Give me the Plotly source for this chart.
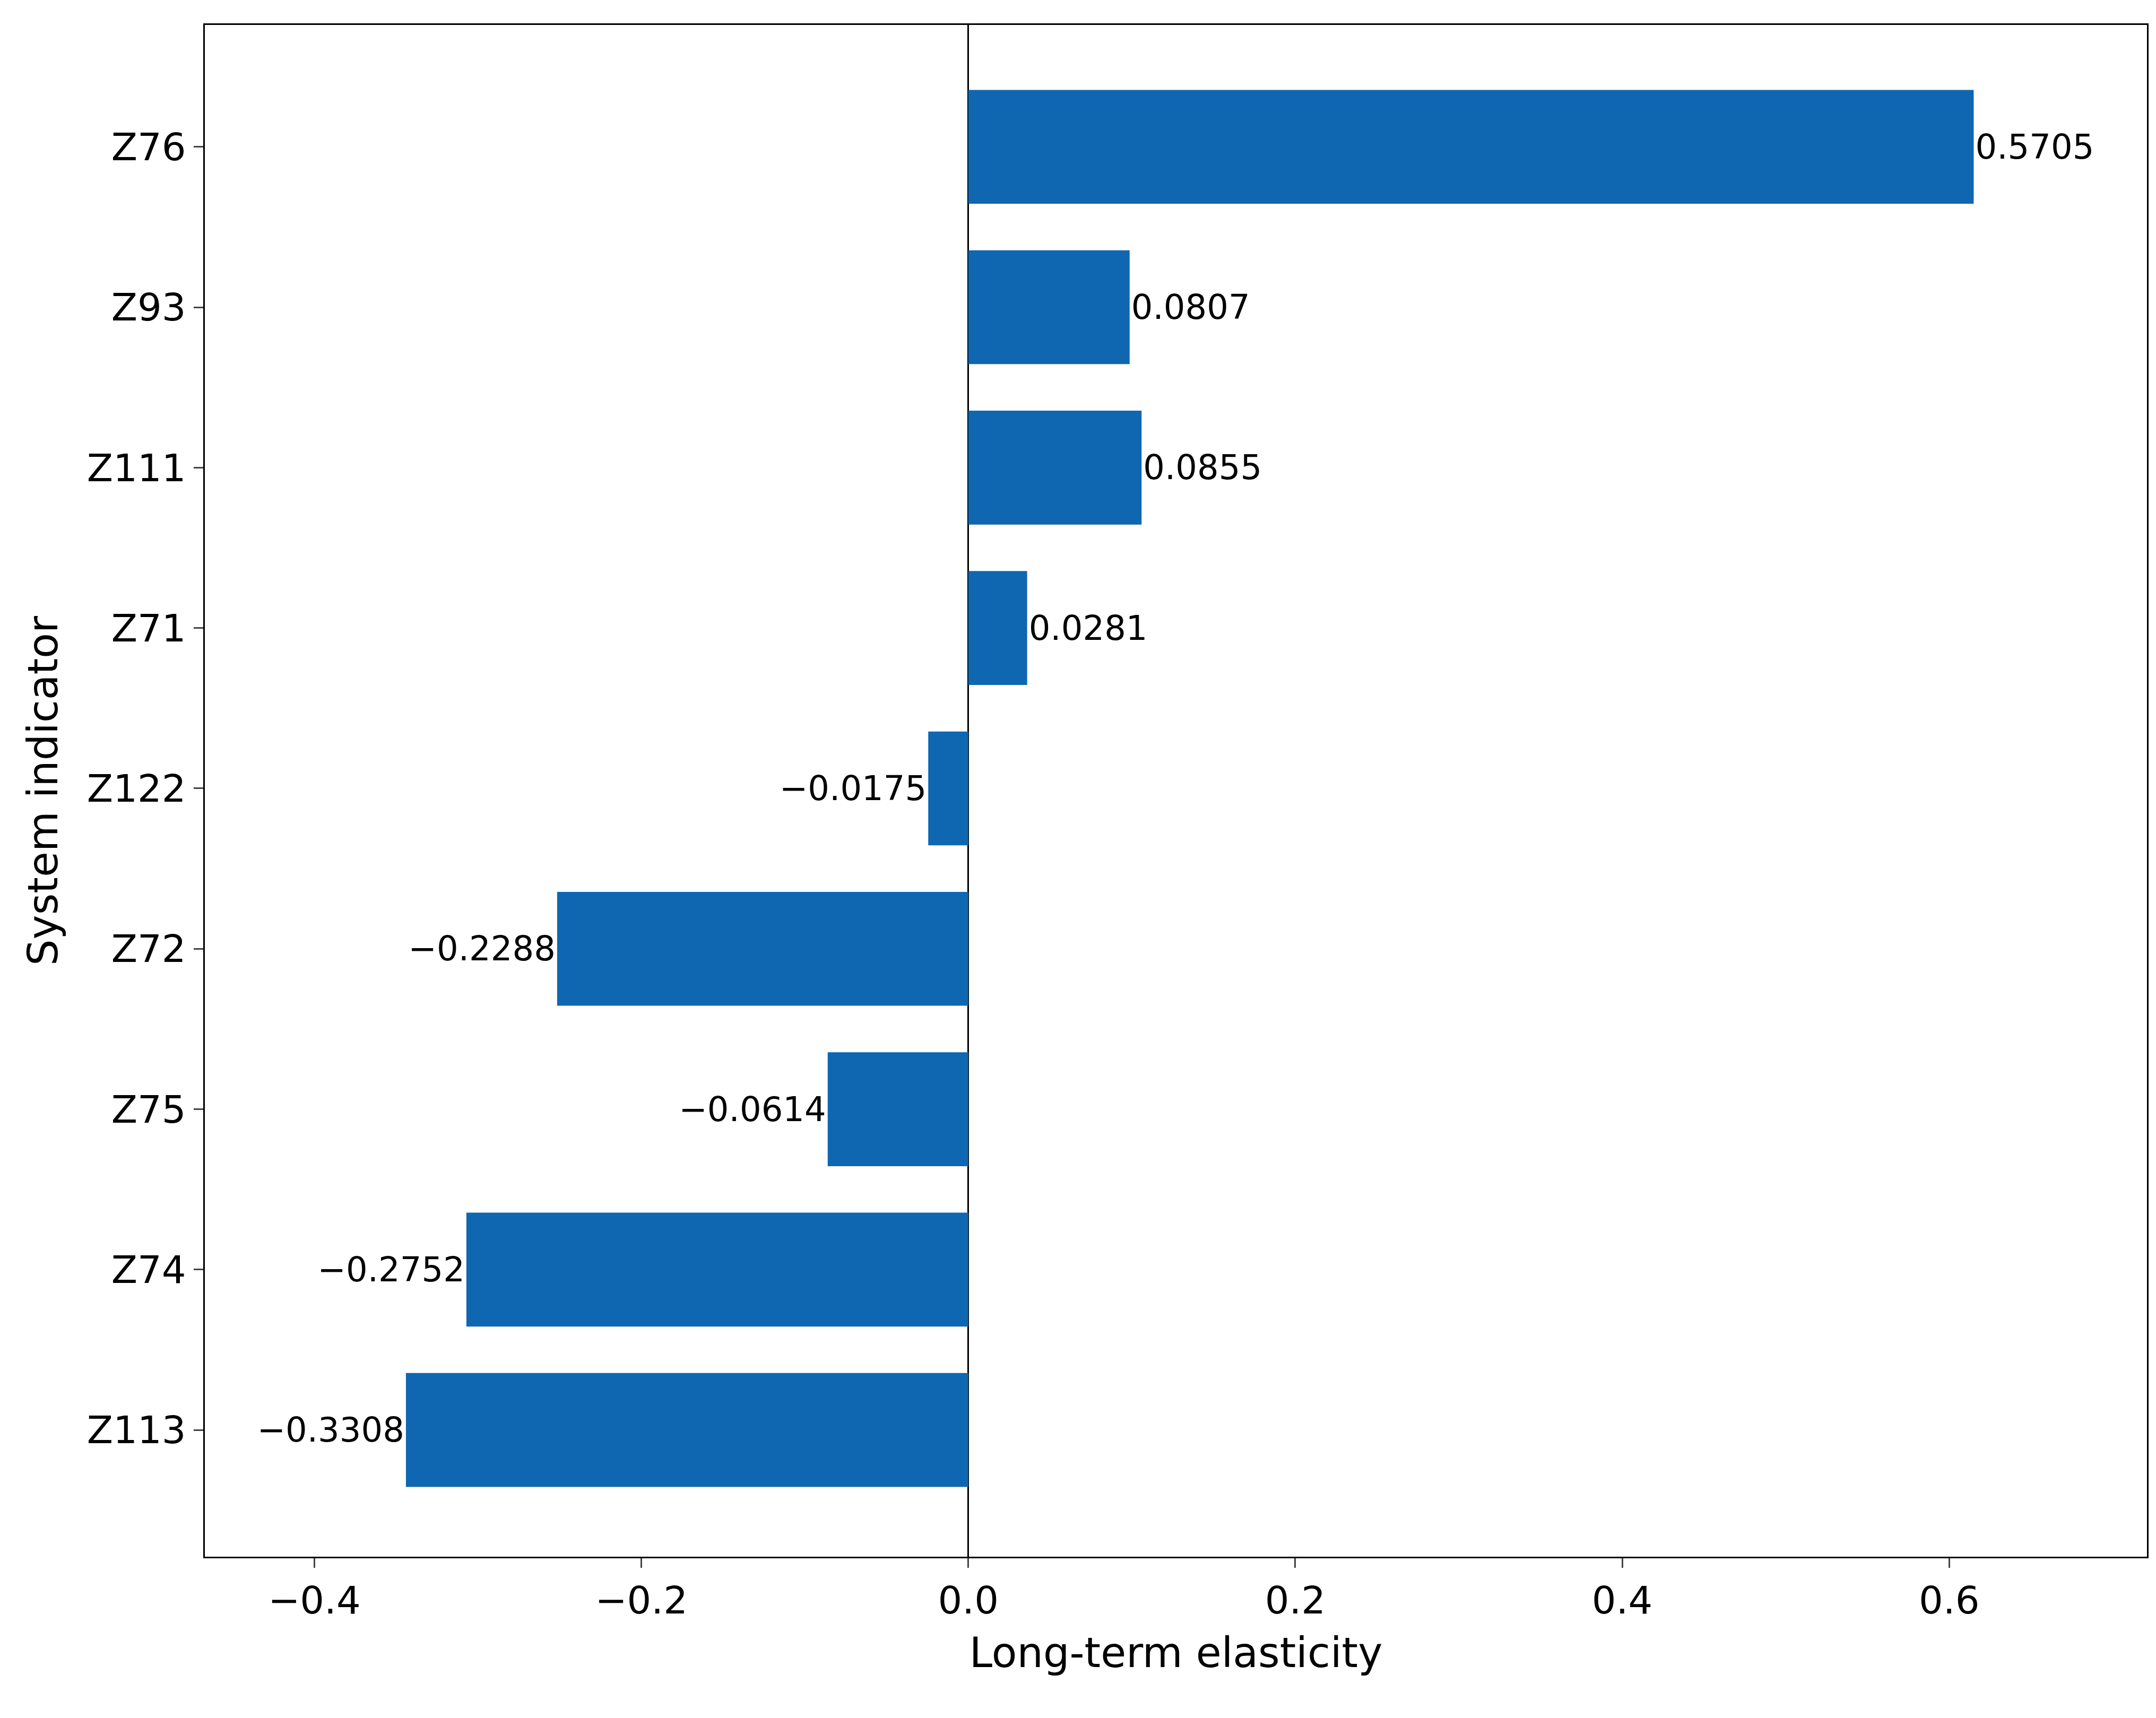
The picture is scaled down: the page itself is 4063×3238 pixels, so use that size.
import plotly.graph_objects as go

indicators = ["Z113", "Z74", "Z75", "Z72", "Z122", "Z71", "Z111", "Z93", "Z76"]
bar_values = [-0.344, -0.307, -0.086, -0.2515, -0.0245, 0.036, 0.106, 0.0987, 0.615]
bar_labels = ["\u22120.3308", "\u22120.2752", "\u22120.0614", "\u22120.2288", "\u22120.0175",
              "0.0281", "0.0855", "0.0807", "0.5705"]
x_ticks = [-0.4, -0.2, 0.0, 0.2, 0.4, 0.6]
x_tick_text = ["\u22120.4", "\u22120.2", "0.0", "0.2", "0.4", "0.6"]

fig = go.Figure()
fig.add_trace(go.Bar(y=indicators, x=bar_values, orientation="h", width=0.71,
                     marker=dict(color="#0f67b1", line=dict(width=0)),
                     text=bar_labels, textposition="outside", cliponaxis=False,
                     textfont=dict(size=64, color="black")))

axis_common = dict(showline=True, linecolor="black", linewidth=3, mirror=True,
                   ticks="outside", ticklen=18, tickwidth=3, showgrid=False,
                   tickfont=dict(size=72, color="black"))
fig.update_xaxes(range=[-0.467, 0.721], tickvals=x_ticks, ticktext=x_tick_text,
                 zeroline=True, zerolinecolor="black", zerolinewidth=3,
                 title=dict(text="Long-term elasticity", font=dict(size=78, color="black"), standoff=30),
                 **axis_common)
fig.update_yaxes(range=[-0.79, 8.76],
                 title=dict(text="System indicator", font=dict(size=78, color="black"), standoff=30),
                 **axis_common)
fig.update_layout(width=4063, height=3238, plot_bgcolor="white", paper_bgcolor="white",
                  font=dict(family="DejaVu Sans"), showlegend=False,
                  margin=dict(l=378, r=25, t=39, b=312))
fig.write_html("out.html")
